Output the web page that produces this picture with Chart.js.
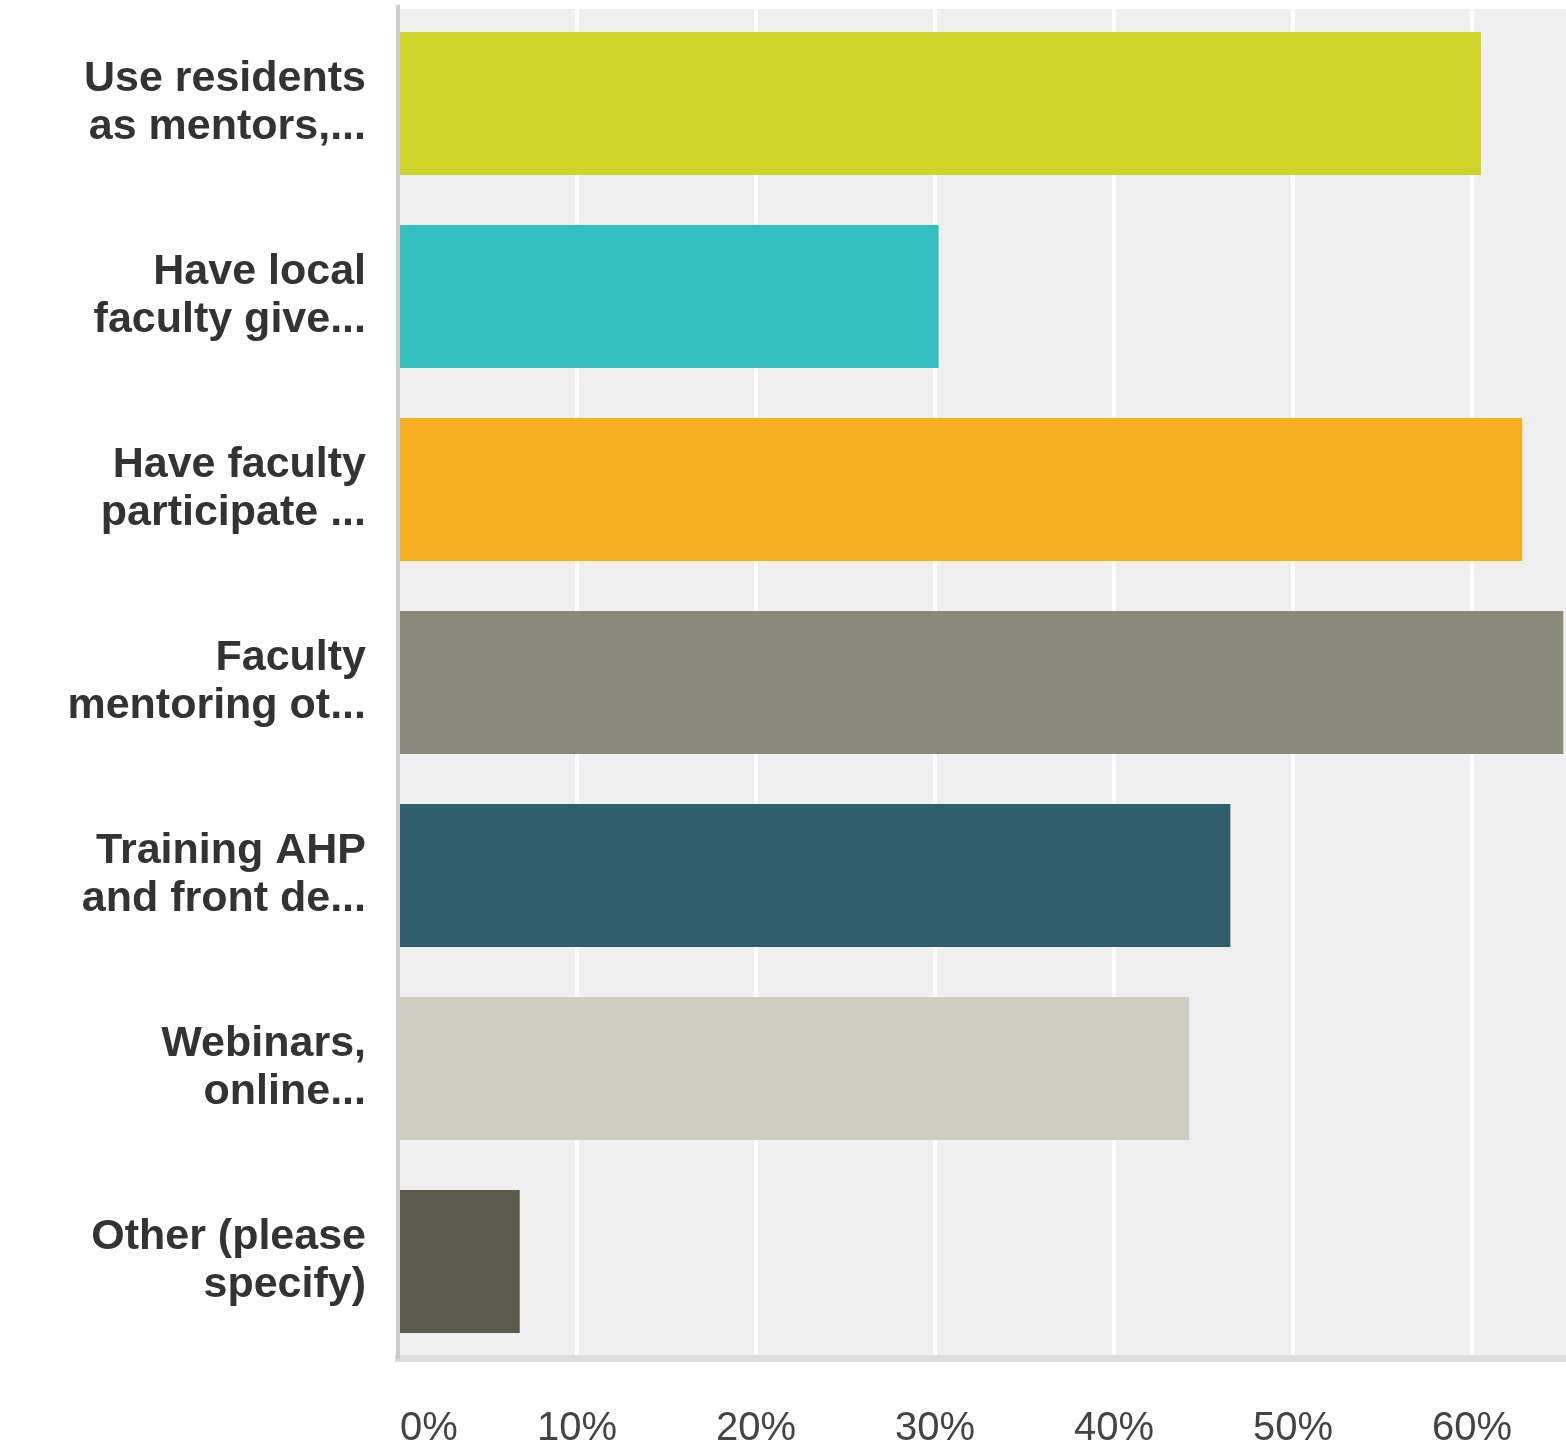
<html lang="en">
<head>
  <meta charset="UTF-8" />
  <title>Survey Responses</title>
  <script src="https://cdn.jsdelivr.net/npm/chart.js"></script>
  <style>
    html, body {
      margin: 0;
      padding: 0;
      background: #ffffff;
    }

    canvas {
      display: block;
    }
  </style>
</head>
<body>
  <canvas id="chart" width="1566" height="1441"></canvas>

  <script>
    // answer choices (already shortened the way the survey tool shows them)
    const answerLabels = [
      ["Use residents", "as mentors,..."],
      ["Have local", "faculty give..."],
      ["Have faculty", "participate ..."],
      ["Faculty", "mentoring ot..."],
      ["Training AHP", "and front de..."],
      ["Webinars,", "online..."],
      ["Other (please", "specify)"]
    ];

    // share of respondents, in percent
    const responsePct = [60.5, 30.2, 62.8, 65.1, 46.5, 44.2, 6.8];

    const barColors = [
      "#cfd42a", "#33bec0", "#f5af20", "#898a79",
      "#2f5f6d", "#cfcdbf", "#5c5a4a"
    ];

    const axisMax = 65.25;
    const tickStep = 10;

    // grey plot background
    const plotBackground = {
      id: "plotBackground",
      beforeDraw(chart) {
        const { ctx, chartArea } = chart;
        ctx.save();
        ctx.fillStyle = "#efefef";
        ctx.fillRect(chartArea.left, chartArea.top + 2, chartArea.right - chartArea.left, chartArea.bottom - chartArea.top - 2);
        ctx.restore();
      }
    };

    // percent labels under the axis; first one sits inside the plot edge
    const percentTicks = {
      id: "percentTicks",
      afterDraw(chart) {
        const { ctx } = chart;
        const scale = chart.scales.x;
        ctx.save();
        ctx.font = "40px 'Liberation Sans', Arial, sans-serif";
        ctx.fillStyle = "#444444";
        ctx.textBaseline = "alphabetic";
        scale.ticks.forEach((tick, i) => {
          const x = scale.getPixelForValue(tick.value);
          ctx.textAlign = i === 0 ? "left" : "center";
          ctx.fillText(tick.value + "%", i === 0 ? x + 2 : x, 1440);
        });
        ctx.restore();
      }
    };

    new Chart(document.getElementById("chart").getContext("2d"), {
      type: "bar",
      data: {
        labels: answerLabels,
        datasets: [{
          data: responsePct,
          backgroundColor: barColors,
          borderWidth: 0,
          categoryPercentage: 1,
          barPercentage: 0.741
        }]
      },
      options: {
        indexAxis: "y",
        responsive: false,
        devicePixelRatio: 1,
        animation: false,
        layout: {
          padding: { top: 7, right: 0, bottom: 0, left: 0 }
        },
        plugins: {
          legend: { display: false },
          tooltip: { enabled: false }
        },
        scales: {
          x: {
            min: 0,
            max: axisMax,
            afterFit(scale) {
              scale.height = 83;
              scale.paddingLeft = 0;
              scale.paddingRight = 0;
            },
            grid: {
              color: "#ffffff",
              lineWidth: 4,
              drawTicks: false
            },
            border: {
              color: "#dddddd",
              width: 7
            },
            ticks: {
              display: false,
              stepSize: tickStep,
              includeBounds: false
            }
          },
          y: {
            afterFit(scale) {
              scale.width = 398;
              scale.paddingTop = 0;
              scale.paddingBottom = 0;
            },
            grid: {
              display: false,
              drawTicks: false
            },
            border: {
              color: "#cccccc",
              width: 4
            },
            ticks: {
              padding: 32,
              color: "#333333",
              font: {
                family: "'Liberation Sans', Arial, sans-serif",
                size: 43,
                weight: "bold",
                lineHeight: "48px"
              }
            }
          }
        }
      },
      plugins: [plotBackground, percentTicks]
    });
  </script>
</body>
</html>
